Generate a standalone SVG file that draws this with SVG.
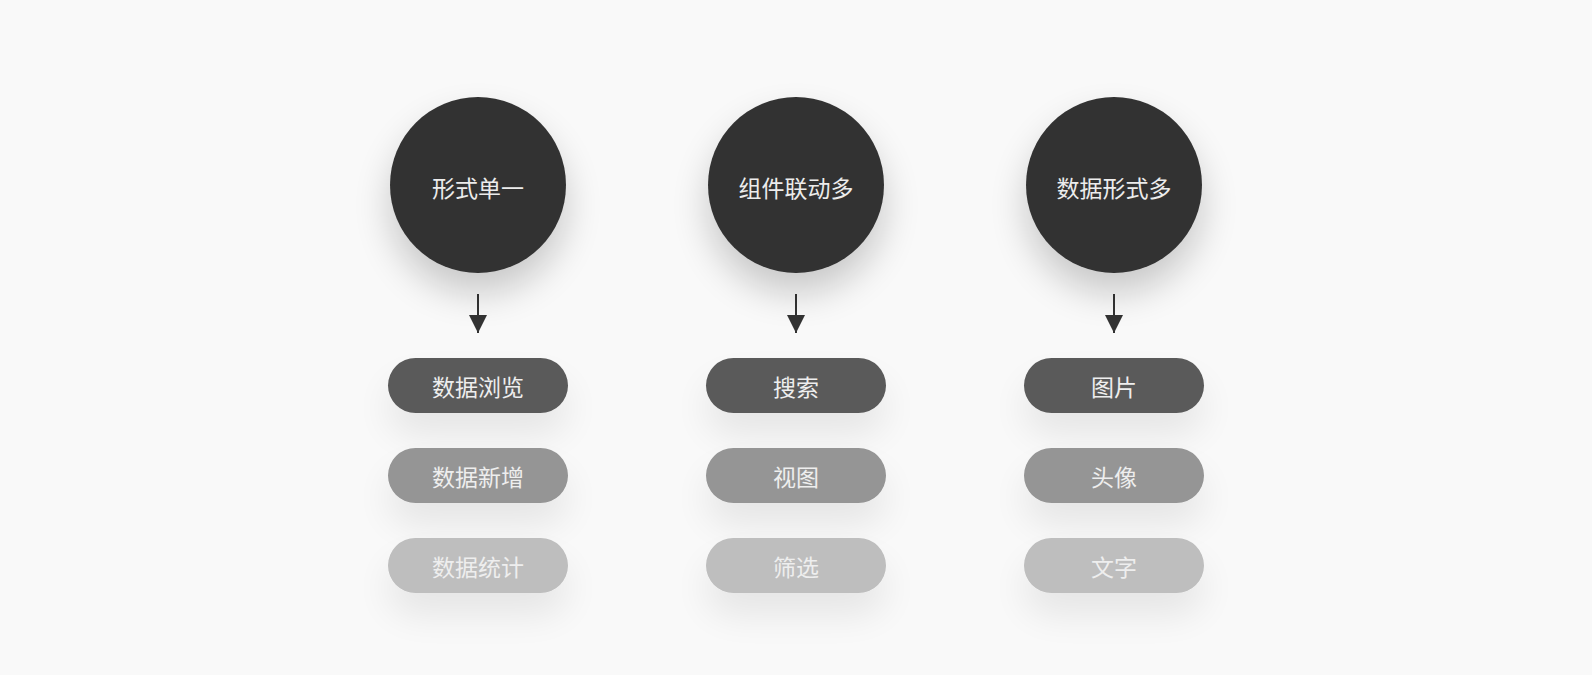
<svg xmlns="http://www.w3.org/2000/svg" width="1592" height="675" viewBox="0 0 1592 675">
<defs>
<filter id="sh" x="-60%" y="-60%" width="220%" height="240%">
<feGaussianBlur in="SourceAlpha" stdDeviation="18"/>
<feOffset dy="20" result="b"/>
<feComponentTransfer><feFuncA type="linear" slope="0.2"/></feComponentTransfer>
<feMerge><feMergeNode/><feMergeNode in="SourceGraphic"/></feMerge>
</filter>
<filter id="shp" x="-50%" y="-100%" width="200%" height="340%">
<feGaussianBlur in="SourceAlpha" stdDeviation="18"/>
<feOffset dy="22" result="b"/>
<feComponentTransfer><feFuncA type="linear" slope="0.08"/></feComponentTransfer>
<feMerge><feMergeNode/><feMergeNode in="SourceGraphic"/></feMerge>
</filter>
<marker id="ah" viewBox="0 0 18 18" markerWidth="18" markerHeight="18" refX="18" refY="9" markerUnits="userSpaceOnUse" orient="auto">
<path d="M0,0 L18,9 L0,18 Z" fill="#333"/>
</marker>
</defs>
<style>
text{font-family:"Noto Sans CJK SC","Noto Sans",sans-serif;font-size:23px;text-anchor:middle;dominant-baseline:central}
.c{fill:#333333;filter:url(#sh)}
.t{fill:#ececec}
.p1{fill:#5a5a5a;filter:url(#shp)}
.p2{fill:#959595;filter:url(#shp)}
.p3{fill:#bebebe;filter:url(#shp)}
.tp{fill:#eeeeee}
.ar{stroke:#333;stroke-width:2;fill:none}
</style>
<rect width="1592" height="675" fill="#f9f9f9"/>
<g id="connectors">
<line class="ar" x1="478" y1="294" x2="478" y2="333" marker-end="url(#ah)"/>
<line class="ar" x1="796" y1="294" x2="796" y2="333" marker-end="url(#ah)"/>
<line class="ar" x1="1114" y1="294" x2="1114" y2="333" marker-end="url(#ah)"/>
</g>
<g id="col1">
<g id="n-xingshi"><circle class="c" cx="478" cy="185" r="88"/><text class="t" x="478" y="187">形式单一</text></g>
<g id="n-liulan"><rect class="p1" x="388" y="358" width="180" height="55" rx="27.5"/><text class="tp" x="478" y="386">数据浏览</text></g>
<g id="n-xinzeng"><rect class="p2" x="388" y="448" width="180" height="55" rx="27.5"/><text class="tp" x="478" y="476">数据新增</text></g>
<g id="n-tongji"><rect class="p3" x="388" y="538" width="180" height="55" rx="27.5"/><text class="tp" x="478" y="566">数据统计</text></g>
</g>
<g id="col2">
<g id="n-zujian"><circle class="c" cx="796" cy="185" r="88"/><text class="t" x="796" y="187">组件联动多</text></g>
<g id="n-sousuo"><rect class="p1" x="706" y="358" width="180" height="55" rx="27.5"/><text class="tp" x="796" y="386">搜索</text></g>
<g id="n-shitu"><rect class="p2" x="706" y="448" width="180" height="55" rx="27.5"/><text class="tp" x="796" y="476">视图</text></g>
<g id="n-shaixuan"><rect class="p3" x="706" y="538" width="180" height="55" rx="27.5"/><text class="tp" x="796" y="566">筛选</text></g>
</g>
<g id="col3">
<g id="n-shuju"><circle class="c" cx="1114" cy="185" r="88"/><text class="t" x="1114" y="187">数据形式多</text></g>
<g id="n-tupian"><rect class="p1" x="1024" y="358" width="180" height="55" rx="27.5"/><text class="tp" x="1114" y="386">图片</text></g>
<g id="n-touxiang"><rect class="p2" x="1024" y="448" width="180" height="55" rx="27.5"/><text class="tp" x="1114" y="476">头像</text></g>
<g id="n-wenzi"><rect class="p3" x="1024" y="538" width="180" height="55" rx="27.5"/><text class="tp" x="1114" y="566">文字</text></g>
</g>
</svg>
